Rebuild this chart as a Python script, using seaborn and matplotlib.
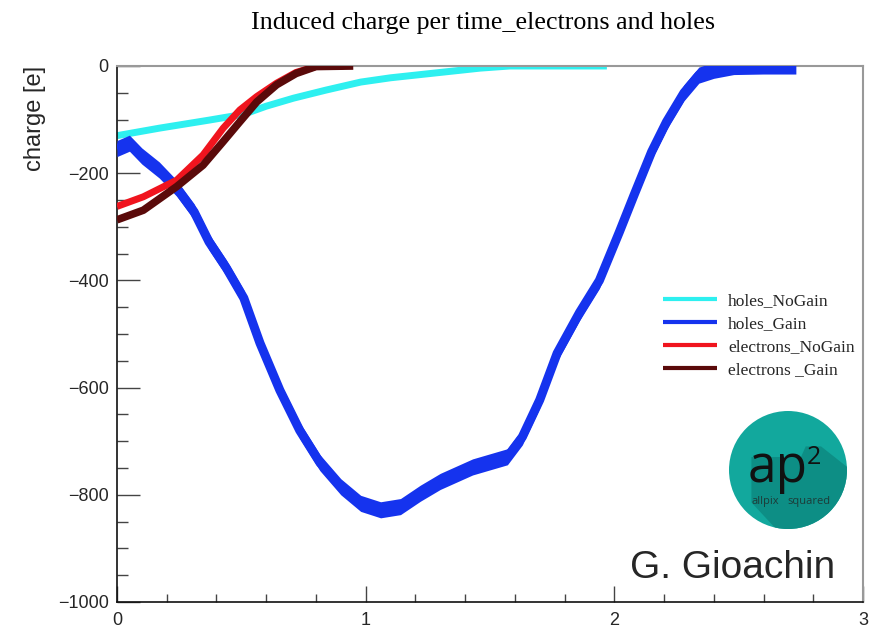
import matplotlib
matplotlib.use("Agg")
import matplotlib.pyplot as plt
import seaborn as sns
import pandas as pd
from matplotlib.patches import Circle, Polygon
from matplotlib.ticker import MultipleLocator

# ---------------- data ----------------
holes_nogain_t = [0, 0.17, 0.37, 0.51, 0.60, 0.71, 0.84, 0.98, 1.10, 1.26, 1.46, 1.58, 1.80, 1.97]
holes_nogain_q = [-130, -116, -101, -90, -75, -60, -45, -30, -22, -14, -4, 0, 0, 0]

holes_gain_t = [0, 0.05, 0.10, 0.17, 0.24, 0.31, 0.37, 0.44, 0.51, 0.575, 0.655, 0.735,
                0.816, 0.90, 0.98, 1.06, 1.14, 1.22, 1.30, 1.43, 1.57, 1.63, 1.70, 1.77,
                1.86, 1.94, 2.02, 2.08, 2.15, 2.21, 2.28, 2.34, 2.40, 2.48, 2.60, 2.73]
holes_gain_q = [-154, -144, -168, -194, -228, -272, -328, -377, -433, -517, -605, -680,
                -740, -785, -816, -828, -822, -797, -775, -748, -729, -692, -623, -536,
                -460, -400, -310, -240, -160, -104, -50, -17, -8, -1, 0, 0]

electrons_nogain_t = [0, 0.106, 0.24, 0.346, 0.427, 0.494, 0.562, 0.642, 0.72, 0.80, 0.91]
electrons_nogain_q = [-262, -244, -213, -166, -116, -82, -57, -32, -12, -1, 0]

electrons_gain_t = [0, 0.106, 0.24, 0.346, 0.427, 0.494, 0.562, 0.642, 0.72, 0.80, 0.95]
electrons_gain_q = [-287, -269, -225, -185, -141, -104, -67, -35, -14, -1, 0]

series_labels = ["holes_NoGain", "holes_Gain", "electrons_NoGain", "electrons _Gain"]
x_ticks = [0, 1, 2, 3]
y_ticks = [0, -200, -400, -600, -800, -1000]

# ---------------- style ----------------
sns.set_style("white")
plt.rcParams["font.family"] = ["Liberation Sans", "DejaVu Sans"]
SERIF = ["Liberation Serif", "DejaVu Serif"]
LOGO_FONT = ["Open Sans", "DejaVu Sans"]

C_CYAN = "#2ef0f0"
C_BLUE = "#1533ee"
C_RED = "#f0141e"
C_DRED = "#5a0a0a"

fig = plt.figure(figsize=(8.8, 6.28), dpi=100)
ax = fig.add_axes([117 / 880, 1 - 602 / 628, 746 / 880, 536 / 628])

df_hn = pd.DataFrame({"t": holes_nogain_t, "q": holes_nogain_q})
df_hg = pd.DataFrame({"t": holes_gain_t, "q": holes_gain_q})
df_en = pd.DataFrame({"t": electrons_nogain_t, "q": electrons_nogain_q})
df_eg = pd.DataFrame({"t": electrons_gain_t, "q": electrons_gain_q})

band = 15  # half-width of the noise band (style)
sns.lineplot(data=df_hn, x="t", y="q", ax=ax, color=C_CYAN, lw=5, label=series_labels[0],
             solid_capstyle="butt", zorder=2)
ax.fill_between(df_hg["t"], df_hg["q"] - band, df_hg["q"] + band, color=C_BLUE, lw=0, zorder=3)
sns.lineplot(data=df_hg, x="t", y="q", ax=ax, color=C_BLUE, lw=6.5, label=series_labels[1],
             solid_capstyle="butt", zorder=3)
sns.lineplot(data=df_en, x="t", y="q", ax=ax, color=C_RED, lw=5, label=series_labels[2],
             solid_capstyle="butt", zorder=4)
sns.lineplot(data=df_eg, x="t", y="q", ax=ax, color=C_DRED, lw=5.5, label=series_labels[3],
             solid_capstyle="butt", zorder=5)

ax.set_xlim(0, 3)
ax.set_ylim(-1000, 0)
ax.set_xticks(x_ticks)
ax.set_yticks(y_ticks)
ax.xaxis.set_minor_locator(MultipleLocator(0.2))
ax.yaxis.set_minor_locator(MultipleLocator(50))
ax.set_xlabel("")
ax.set_ylabel("charge [e]", fontsize=17, loc="top")
ax.yaxis.set_label_coords(-0.095, 1.0)

ax.tick_params(axis="y", which="major", direction="in", length=16.5, width=1,
               labelsize=13, pad=6, left=True, right=False, color="#444444")
ax.tick_params(axis="y", which="minor", direction="in", length=8, width=1,
               left=True, right=False, color="#444444")
ax.tick_params(axis="x", which="major", direction="in", length=11.5, width=1,
               labelsize=13, pad=7, bottom=True, top=False, color="#444444")
ax.tick_params(axis="x", which="minor", direction="in", length=5.8, width=1,
               bottom=True, top=False, color="#444444")

for s in ["left", "bottom"]:
    ax.spines[s].set_color("#111111")
    ax.spines[s].set_linewidth(1.2)
for s in ["top", "right"]:
    ax.spines[s].set_color("#999999")
    ax.spines[s].set_linewidth(1.5)

leg = ax.legend(loc="center left", bbox_to_anchor=(0.732, 0.497), frameon=False,
                borderaxespad=0, borderpad=0, handlelength=3.1, handletextpad=0.64,
                labelspacing=0.38, prop={"family": SERIF, "size": 12.5})
for ln in leg.get_lines():
    ln.set_linewidth(3)

fig.text(0.549, 0.963, "Induced charge per time_electrons and holes", family=SERIF,
         fontsize=18.7, ha="center", va="center", color="black")

ax.text(0.9625, 0.0448, "G. Gioachin", transform=ax.transAxes, fontsize=28,
        ha="right", va="baseline")

# ---------------- logo ----------------
lax = fig.add_axes([(788 - 59) / 880, 1 - (470 + 59) / 628, 118 / 880, 118 / 628])
lax.set_xlim(-1, 1)
lax.set_ylim(-1, 1)
lax.axis("off")
circ = Circle((0, 0), 1, color="#12a89d", lw=0)
lax.add_patch(circ)
shadow = Polygon([(-0.62, 0.22), (-0.62, -0.55), (0.45, -1.7), (1.7, -0.5),
                  (0.56, 0.40), (0.30, 0.40), (0.22, 0.22)],
                 closed=True, color="#0d8e85", lw=0)
lax.add_patch(shadow)
shadow.set_clip_path(circ)
lax.text(-0.68, -0.2, "ap", family=LOGO_FONT, fontsize=37,
         color="#111111", ha="left", va="baseline")
lax.text(0.32, 0.10, "2", family=LOGO_FONT, fontsize=18,
         color="#111111", ha="left", va="baseline")
lax.text(-0.38, -0.58, "allpix", family=LOGO_FONT, fontsize=8,
         color="#1d3b38", ha="center", va="baseline")
lax.text(0.36, -0.58, "squared", family=LOGO_FONT, fontsize=8,
         color="#1d3b38", ha="center", va="baseline")

fig.savefig("out.png", dpi=100)
